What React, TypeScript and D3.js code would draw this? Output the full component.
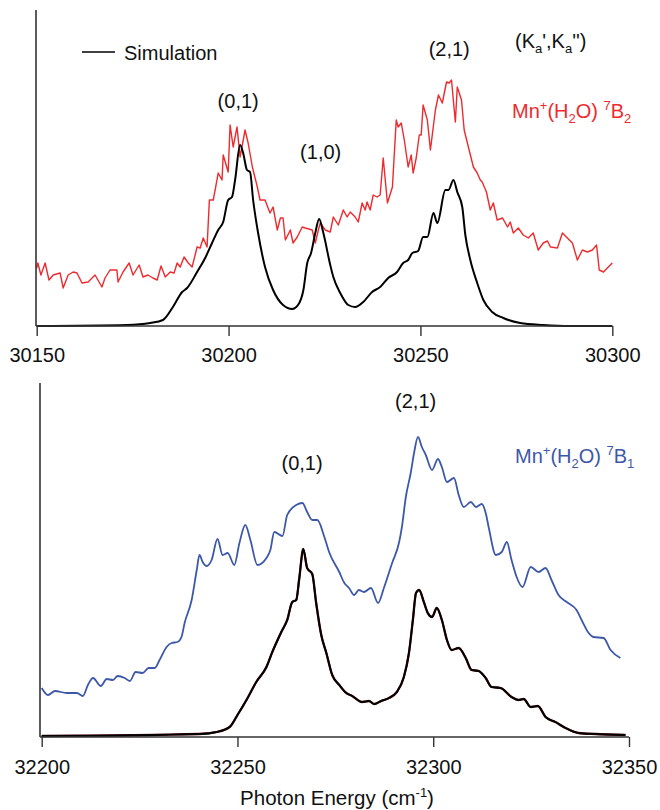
import React, { useEffect, useRef } from "react";
import * as d3 from "d3";

// ── Top panel: 7B2 state (energy cm-1, intensity arb. units) ──────────
const topExpE = [30150, 30150.3, 30151.1, 30152.2, 30153.2, 30154.3, 30156.1, 30156.9, 30158.2, 30159.5, 30160.5, 30161.8, 30163.4, 30165.2, 30167, 30167.8, 30169.1, 30170.9, 30171.2, 30172.5, 30174.1, 30175.1, 30176.7, 30177.7, 30179, 30180.3, 30181.4, 30182.4, 30183.5, 30184.8, 30185.8, 30186.6, 30187.4, 30188.4, 30189.5, 30190.5, 30191.8, 30192.6, 30193.4, 30194.4, 30195, 30196, 30196.5, 30197.3, 30198.3, 30198.6, 30199.9, 30200.4, 30201.2, 30202.2, 30203, 30204.3, 30205.1, 30206.2, 30207.5, 30208.2, 30209.5, 30210.8, 30211.6, 30212.7, 30213.5, 30214.2, 30214.8, 30216.1, 30216.8, 30217.9, 30219.2, 30220, 30221.8, 30222.6, 30223.4, 30223.9, 30225.2, 30226.5, 30227.3, 30228.6, 30229.9, 30230.9, 30231.7, 30233, 30233.8, 30234.8, 30235.6, 30236.1, 30236.9, 30237.7, 30238.7, 30239.5, 30240.3, 30241.4, 30242.7, 30243.7, 30244.2, 30245, 30245.8, 30246.8, 30247.6, 30248.1, 30248.9, 30249.7, 30250.2, 30250.7, 30251.8, 30252.6, 30253.9, 30254.7, 30255.7, 30256.8, 30257.5, 30258.1, 30259.1, 30259.6, 30260.7, 30261.4, 30262.5, 30263.8, 30264.8, 30265.6, 30266.1, 30267.2, 30268.2, 30269, 30270, 30271.4, 30272.7, 30273.4, 30274.2, 30275.5, 30276.8, 30278.1, 30279.4, 30280.7, 30282, 30283.1, 30283.9, 30285.7, 30287, 30288.3, 30289.6, 30290.9, 30292.2, 30293.5, 30294.8, 30295.9, 30296.6, 30297.7, 30298.7, 30300];
const topExpI = [58, 63, 51, 63, 46, 51, 53, 38, 51, 54, 53, 43, 44, 51, 39, 48, 56, 56, 44, 54, 63, 51, 61, 49, 51, 48, 46, 60, 49, 54, 53, 63, 59, 69, 63, 59, 79, 78, 88, 79, 126, 126, 136, 153, 146, 171, 154, 201, 179, 199, 169, 196, 183, 159, 139, 126, 126, 113, 119, 96, 108, 108, 86, 96, 83, 89, 99, 98, 96, 83, 96, 103, 96, 94, 109, 101, 116, 109, 114, 109, 104, 123, 116, 124, 116, 131, 129, 131, 168, 123, 139, 206, 199, 203, 186, 159, 171, 153, 168, 191, 191, 221, 206, 176, 216, 231, 223, 244, 243, 246, 204, 239, 226, 196, 179, 159, 153, 146, 144, 134, 116, 123, 106, 108, 99, 104, 93, 98, 91, 88, 93, 76, 83, 85, 79, 78, 93, 88, 83, 66, 76, 74, 76, 81, 56, 54, 58, 63];

const topSimE = [30150, 30173.6, 30179.6, 30182.9, 30185.5, 30187.9, 30189.2, 30191.8, 30193.9, 30195.7, 30197.3, 30198.6, 30199.9, 30200.9, 30201.7, 30203, 30203.8, 30204.8, 30205.6, 30206.4, 30207.7, 30209.5, 30211.6, 30214.2, 30216.6, 30218.1, 30219.5, 30220.5, 30221.5, 30222.6, 30223.6, 30224.7, 30226.5, 30227.3, 30229.1, 30231.2, 30233, 30235.1, 30237.4, 30239.5, 30241.6, 30243.9, 30245.5, 30246.8, 30247.9, 30249.4, 30250.7, 30251.8, 30253.4, 30254.4, 30256.5, 30257.3, 30258.6, 30259.6, 30260.9, 30261.7, 30263, 30264.8, 30266.4, 30268.7, 30271.6, 30276, 30282, 30289.1, 30300];
const topSimI = [0, 1, 3, 6, 19, 34, 38, 54, 68, 83, 96, 104, 126, 129, 146, 181, 173, 156, 154, 126, 93, 59, 36, 21, 17, 21, 36, 63, 73, 93, 107, 93, 61, 49, 33, 21, 19, 24, 34, 39, 48, 54, 63, 66, 73, 75, 89, 89, 113, 103, 136, 136, 146, 134, 119, 91, 66, 43, 26, 14, 8, 3, 1, 0, 0];

// ── Bottom panel: 7B1 state ───────────────────────────────────────────
const botExpE = [32200, 32201.6, 32203.4, 32206.4, 32209, 32210.5, 32211.8, 32213.1, 32215.1, 32216.6, 32218.2, 32219.4, 32221.2, 32222.5, 32224, 32225.8, 32227.3, 32228.9, 32230.1, 32231.9, 32233.2, 32234.7, 32235.7, 32236.5, 32238.3, 32239.6, 32240.3, 32241.1, 32242.1, 32243.4, 32244.9, 32246.2, 32247.5, 32249.2, 32250.5, 32252, 32253.3, 32255.1, 32257.4, 32258.4, 32259.4, 32261.5, 32262.7, 32265, 32266.6, 32267.8, 32269.1, 32270.4, 32272.2, 32273.4, 32276, 32277.3, 32278.5, 32279.8, 32281, 32282.3, 32284.1, 32285.9, 32287.4, 32289.5, 32291.3, 32292, 32293, 32294.3, 32295.1, 32296.1, 32297.1, 32298.1, 32299.7, 32301.2, 32302.2, 32303.5, 32305.3, 32306.5, 32307.8, 32309.6, 32310.9, 32312.4, 32313.4, 32314.2, 32316, 32317.5, 32318.8, 32320, 32321.3, 32322.8, 32324.9, 32326.9, 32328.7, 32330.2, 32332, 32334.1, 32336.6, 32337.9, 32339.7, 32340.9, 32343.5, 32345.3, 32347.8];
const botExpI = [49, 42, 46, 44, 44, 41, 52, 59, 51, 58, 57, 61, 59, 56, 65, 64, 69, 69, 77, 90, 94, 95, 100, 114, 137, 167, 182, 175, 171, 177, 198, 182, 184, 172, 194, 212, 197, 172, 179, 187, 205, 201, 222, 232, 234, 225, 217, 217, 200, 185, 165, 154, 149, 142, 147, 145, 149, 134, 149, 174, 195, 210, 240, 265, 284, 300, 290, 282, 267, 278, 270, 255, 259, 242, 230, 235, 230, 233, 224, 209, 182, 185, 195, 177, 160, 150, 170, 165, 169, 157, 142, 135, 127, 117, 104, 100, 99, 87, 79];

const botSimE = [32200, 32240.3, 32244.7, 32248, 32250, 32252.3, 32254.8, 32257.4, 32258.9, 32261.2, 32262.7, 32264, 32265, 32265.8, 32266.8, 32267.8, 32269.1, 32270.1, 32271.4, 32272.7, 32274.2, 32276, 32277.8, 32279.3, 32281.8, 32283.6, 32284.9, 32286.7, 32288.7, 32290.7, 32292.5, 32293.8, 32294.8, 32295.6, 32296.4, 32297.6, 32298.6, 32299.7, 32300.9, 32302.2, 32303.5, 32304.7, 32306.5, 32308.3, 32309.8, 32311.6, 32313.4, 32314.9, 32317.2, 32320, 32321.8, 32323.1, 32324.9, 32326.7, 32328.7, 32331.2, 32333.8, 32337.1, 32341.4, 32349.1];
const botSimI = [1, 3, 5, 10, 22, 37, 55, 70, 85, 105, 117, 135, 137, 159, 188, 169, 163, 134, 102, 84, 62, 52, 44, 41, 35, 36, 33, 36, 39, 45, 60, 84, 117, 144, 147, 135, 124, 120, 129, 117, 97, 87, 89, 79, 67, 66, 59, 50, 49, 40, 37, 38, 30, 31, 20, 15, 9, 4, 3, 2];

const topTicks = [30150, 30200, 30250, 30300];
const botTicks = [32200, 32250, 32300, 32350];

const FONT = "'Liberation Sans', Arial, Helvetica, sans-serif";
const RED = "#ee2a2e";
const BLUE = "#3d58a8";
const AXIS = "#333";

const W = 660;
const H = 810;

const App = () => {
    const svgRef = useRef(null);

    useEffect(() => {
        const svg = d3.select(svgRef.current);
        svg.selectAll("*").remove();

        const zip = (xs, ys) => xs.map((x, i) => [x, ys[i]]);

        // ── panel builder ────────────────────────────────────────────────
        const panel = (opt) => {
            const x = d3.scaleLinear().domain(opt.xDomain).range(opt.xRange);
            const y = d3.scaleLinear().domain(opt.yDomain).range(opt.yRange);

            const g = svg.append("g");

            const line = (curve) => d3.line().x(d => x(d[0])).y(d => y(d[1])).curve(curve);

            opt.series.forEach(s => {
                g.append("path")
                    .datum(zip(s.e, s.i))
                    .attr("d", line(s.curve))
                    .attr("fill", "none")
                    .attr("stroke", s.color)
                    .attr("stroke-width", s.width)
                    .attr("stroke-linejoin", "round");
            });

            // x axis
            g.append("g")
                .attr("transform", `translate(0,${opt.yRange[0]})`)
                .call(d3.axisBottom(x).tickValues(opt.ticks).tickSize(10).tickPadding(opt.pad).tickSizeOuter(0).tickFormat(d3.format("d")))
                .call(ax => ax.select(".domain")
                    .attr("d", `M${opt.axisX},0H${opt.xRange[1]}`)
                    .attr("stroke", AXIS).attr("stroke-width", 1.6))
                .call(ax => ax.selectAll(".tick line").attr("stroke", AXIS).attr("stroke-width", 1.4))
                .call(ax => ax.selectAll(".tick text")
                    .attr("fill", "#111")
                    .attr("font-size", "20px")
                    .attr("font-family", FONT));

            // y axis line (no ticks)
            g.append("line")
                .attr("x1", opt.axisX).attr("x2", opt.axisX)
                .attr("y1", opt.yRange[1]).attr("y2", opt.yRange[0])
                .attr("stroke", AXIS).attr("stroke-width", 1.6);

            return { g, x, y };
        };

        const top = panel({
            xDomain: [30150, 30300], xRange: [36.7, 612.3],
            yDomain: [0, 316], yRange: [326, 10],
            axisX: 36, ticks: topTicks, pad: 12,
            series: [
                { e: topExpE, i: topExpI, color: RED, width: 1.4, curve: d3.curveLinear },
                { e: topSimE, i: topSimI, color: "#000", width: 2, curve: d3.curveMonotoneX },
            ],
        });

        const bot = panel({
            xDomain: [32200, 32350], xRange: [41.7, 629],
            yDomain: [0, 354], yRange: [737, 383],
            axisX: 40, ticks: botTicks, pad: 13,
            series: [
                { e: botExpE, i: botExpI, color: BLUE, width: 1.8, curve: d3.curveMonotoneX },
                { e: botSimE, i: botSimI, color: "#6a1414", width: 2.3, curve: d3.curveMonotoneX },
                { e: botSimE, i: botSimI, color: "#000", width: 1.9, curve: d3.curveMonotoneX },
            ],
        });

        // ── text helpers ─────────────────────────────────────────────────
        const label = (g, px, py, txt, anchor = "middle", fill = "#111") =>
            g.append("text")
                .attr("x", px).attr("y", py)
                .attr("text-anchor", anchor)
                .attr("font-size", "20px")
                .attr("font-family", FONT)
                .attr("fill", fill)
                .text(txt);

        // parts: [text, shift] where shift: 0 normal, -1 super, 1 sub
        const rich = (g, px, py, parts, fill) => {
            const t = g.append("text")
                .attr("x", px).attr("y", py)
                .attr("font-size", "20px")
                .attr("font-family", FONT)
                .attr("fill", fill);
            let cur = 0;
            parts.forEach(([s, shift]) => {
                const target = shift === -1 ? -8 : shift === 1 ? 5 : 0;
                t.append("tspan")
                    .attr("dy", target - cur)
                    .attr("font-size", shift ? "13px" : "20px")
                    .text(s);
                cur = target;
            });
            return t;
        };

        // top panel annotations
        top.g.append("line")
            .attr("x1", 82).attr("x2", 115).attr("y1", 52).attr("y2", 52)
            .attr("stroke", "#000").attr("stroke-width", 1.5);
        label(top.g, 124, 60, "Simulation", "start");
        label(top.g, top.x(30202.5), 108, "(0,1)");
        label(top.g, top.x(30224), 159, "(1,0)");
        label(top.g, top.x(30257.5), 56, "(2,1)");
        rich(top.g, 515, 48, [["(K", 0], ["a", 1], ["',K", 0], ["a", 1], ["'')", 0]], "#111");
        rich(top.g, 512, 118, [["Mn", 0], ["+", -1], ["(H", 0], ["2", 1], ["O) ", 0], ["7", -1], ["B", 0], ["2", 1]], RED);

        // bottom panel annotations
        label(bot.g, bot.x(32266.5), 470, "(0,1)");
        label(bot.g, bot.x(32295.5), 408, "(2,1)");
        rich(bot.g, 515, 463, [["Mn", 0], ["+", -1], ["(H", 0], ["2", 1], ["O) ", 0], ["7", -1], ["B", 0], ["1", 1]], BLUE);

        // x axis title
        const xt = svg.append("text")
            .attr("x", 337).attr("y", 805)
            .attr("text-anchor", "middle")
            .attr("font-size", "20.5px")
            .attr("font-family", FONT)
            .attr("fill", "#111");
        xt.append("tspan").text("Photon Energy (cm");
        xt.append("tspan").attr("dy", -8).attr("font-size", "13px").text("-1");
        xt.append("tspan").attr("dy", 8).text(")");
    }, []);

    return (
        <svg
            ref={svgRef}
            width={W}
            height={H}
            style={{ position: "absolute", left: 0, top: 0, background: "#fff" }}
        />
    );
};

export default App;
